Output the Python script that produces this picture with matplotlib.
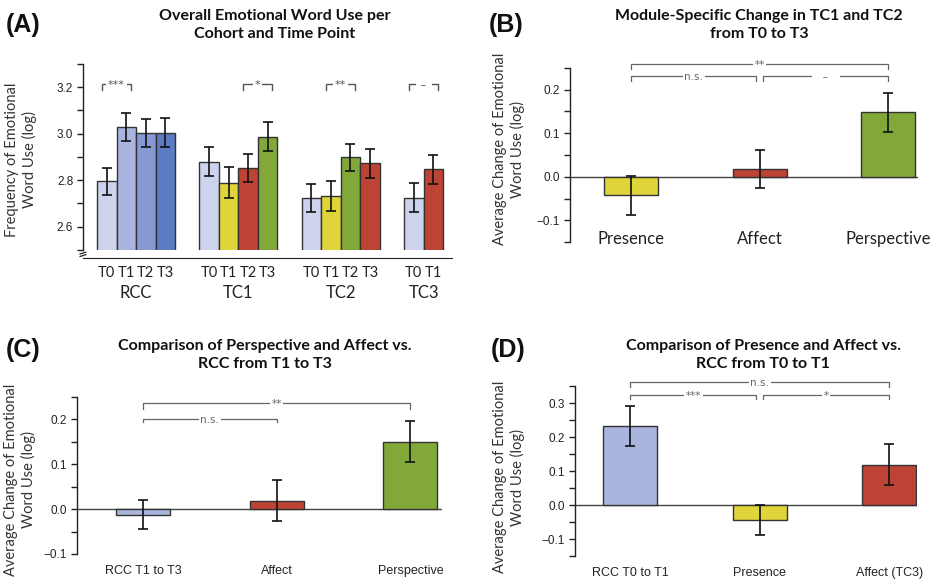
import matplotlib
matplotlib.use('Agg')
import numpy as np
import matplotlib.pyplot as plt
from matplotlib.ticker import MultipleLocator, FixedLocator

plt.rcParams['font.family'] = ['Lato', 'DejaVu Sans']

# ---- data ----
cohorts = ['RCC', 'TC1', 'TC2', 'TC3']
timepoints = [['T0', 'T1', 'T2', 'T3'], ['T0', 'T1', 'T2', 'T3'],
              ['T0', 'T1', 'T2', 'T3'], ['T0', 'T1']]
freq = [[2.795, 3.03, 3.005, 3.005],
        [2.88, 2.79, 2.853, 2.988],
        [2.725, 2.732, 2.898, 2.873],
        [2.725, 2.847]]
freq_err = [[0.058, 0.06, 0.06, 0.062],
            [0.062, 0.065, 0.06, 0.062],
            [0.06, 0.063, 0.06, 0.063],
            [0.063, 0.062]]
# (cohort index, bar i, bar j, label)
a_sig = [(0, 0, 1, '***'), (1, 2, 3, '*'), (2, 1, 2, '**'), (3, 0, 1, ' \u2013 ')]

b_labels = ['Presence', 'Affect', 'Perspective']
b_vals = [-0.043, 0.018, 0.148]
b_err = [0.044, 0.044, 0.045]

c_labels = ['RCC T1 to T3', 'Affect', 'Perspective']
c_vals = [-0.012, 0.019, 0.15]
c_err = [0.033, 0.045, 0.046]

d_labels = ['RCC T0 to T1', 'Presence', 'Affect (TC3)']
d_vals = [0.233, -0.045, 0.119]
d_err = [0.058, 0.044, 0.059]

# colours
blue0, blue1, blue2, blue3 = '#cdd3ec', '#a9b5df', '#8799d4', '#5b7bc3'
yellow, red, green = '#dfd43a', '#bd4434', '#82a83a'
a_colors = [[blue0, blue1, blue2, blue3],
            [blue0, yellow, red, green],
            [blue0, yellow, green, red],
            [blue0, red]]

W, H = 939, 583
fig = plt.figure(figsize=(W / 100, H / 100), dpi=100)
dark = '#222222'
brk = '#666666'


def add_ax(l, t, r, b):
    return fig.add_axes([l / W, 1 - b / H, (r - l) / W, (b - t) / H])


def style_y(ax):
    for s in ['top', 'right', 'bottom']:
        ax.spines[s].set_visible(False)
    ax.spines['left'].set_color(dark)
    ax.spines['left'].set_linewidth(1)
    ax.tick_params(axis='y', which='both', direction='out', length=4,
                   width=1, color=dark, pad=3, labelsize=8.5, labelcolor=dark)
    for t in ax.get_yticklabels():
        t.set_family('Liberation Sans')


def bracket(ax, x1, x2, y, drop, text, fs=7.5, color=brk, lw=0.9):
    ax.plot([x1, x1, x2, x2], [y - drop, y, y, y - drop], color=color,
            lw=lw, clip_on=False, zorder=5)
    ax.text((x1 + x2) / 2, y, text, ha='center', va='center_baseline',
            fontsize=fs, family='DejaVu Sans', color=color, zorder=6,
            clip_on=False,
            bbox=dict(facecolor='white', edgecolor='none', pad=1.2))


def fig_text(x, y, s, **kw):
    fig.text(x / W, 1 - y / H, s, **kw)


# ---- panel A ----
axA = add_ax(83, 64, 452, 250)
gap = 1.25
pos = 0
centers = []
for k in range(len(cohorts)):
    n = len(freq[k])
    xs = pos + np.arange(n) + 0.5
    centers.append(xs)
    axA.bar(xs, freq[k], width=1.0, bottom=0, color=a_colors[k],
            edgecolor='#333333', lw=1, zorder=2)
    axA.errorbar(xs, freq[k], yerr=freq_err[k], fmt='none', ecolor='#111111',
                 elinewidth=1.2, capsize=3.5, capthick=1.2, zorder=3)
    pos += n + gap
axA.set_ylim(2.5, 3.3)
axA.set_xlim(-0.72, pos - gap + 0.46)
axA.yaxis.set_major_locator(FixedLocator([2.6, 2.8, 3.0, 3.2]))
axA.yaxis.set_minor_locator(MultipleLocator(0.1))
axA.set_yticklabels(['2.6', '2.8', '3.0', '3.2'])
style_y(axA)
axA.spines['bottom'].set_visible(True)
axA.spines['bottom'].set_position(('outward', 5.8))
axA.spines['bottom'].set_color(dark)
axA.set_xticks([])
xt = axA.get_xaxis_transform()
# axis break mark
for dy in (0.0, 2.5):
    axA.plot([-0.87, -0.58], [-(4.0 + dy) / 186, -(2.2 + dy) / 186],
             transform=xt, color=dark, lw=0.9, clip_on=False)
for k in range(len(cohorts)):
    for xi, lab in zip(centers[k], timepoints[k]):
        axA.text(xi, -23 / 186, lab, transform=xt, ha='center', va='center',
                 fontsize=10.5, color=dark)
    axA.text(centers[k].mean(), -43 / 186, cohorts[k], transform=xt,
             ha='center', va='center', fontsize=12, color=dark)
for k, i, j, lab in a_sig:
    mid = (centers[k][i] + centers[k][j]) / 2
    bracket(axA, mid - 0.75, mid + 0.75, 3.212, 0.022, lab, fs=8,
            color='#555555', lw=1.0)


# ---- panels B, C, D ----
def change_panel(rect, labels, vals, errs, colors, ylo, yhi, ticks, xl, xr,
                 width, lab_y, lab_font, lab_size):
    ax = add_ax(*rect)
    x = np.arange(len(vals))
    ax.axhline(0, color='#444444', lw=1, zorder=1)
    ax.bar(x, vals, width, color=colors, edgecolor='#333333', lw=1, zorder=2)
    ax.errorbar(x, vals, yerr=errs, fmt='none', ecolor='#111111',
                elinewidth=1.2, capsize=3.5, capthick=1.2, zorder=3)
    ax.set_xlim(xl, xr)
    ax.set_ylim(ylo, yhi)
    ax.yaxis.set_major_locator(FixedLocator(ticks))
    ax.yaxis.set_minor_locator(MultipleLocator(0.05))
    ax.set_yticklabels([('%.1f' % t).replace('-', '\u2212') for t in ticks])
    style_y(ax)
    ax.set_xticks([])
    hpx = rect[3] - rect[1]
    for xi, lab in zip(x, labels):
        ax.text(xi, (rect[3] - lab_y) / hpx, lab,
                transform=ax.get_xaxis_transform(), ha='center', va='center',
                fontsize=lab_size, family=lab_font, color=dark)
    return ax


axB = change_panel((570, 68, 918, 242), b_labels, b_vals, b_err,
                   [yellow, red, green], -0.15, 0.25, [-0.1, 0.0, 0.1, 0.2],
                   -0.473, 2.23, 0.42, 239, 'Lato', 12)
bracket(axB, 0, 2, 0.259, 0.011, '**')
bracket(axB, 0, 0.975, 0.232, 0.012, 'n.s.')
bracket(axB, 1.025, 2, 0.232, 0.012, '   \u2013   ')

axC = change_panel((77, 397, 442, 554), c_labels, c_vals, c_err,
                   [blue1, red, green], -0.1, 0.25, [-0.1, 0.0, 0.1, 0.2],
                   -0.494, 2.237, 0.405, 570.7, 'Liberation Sans', 9)
bracket(axC, 0, 2, 0.237, 0.013, '**')
bracket(axC, 0, 1, 0.2016, 0.008, 'n.s.')

axD = change_panel((575, 386, 917, 556), d_labels, d_vals, d_err,
                   [blue1, yellow, red], -0.15, 0.35,
                   [-0.1, 0.0, 0.1, 0.2, 0.3],
                   -0.425, 2.214, 0.417, 572.7, 'Liberation Sans', 9)
bracket(axD, 0, 2, 0.361, 0.015, 'n.s.')
bracket(axD, 0, 0.975, 0.3235, 0.012, '***')
bracket(axD, 1.025, 2, 0.3235, 0.012, '*')

# ---- titles, panel letters, y labels ----
tkw = dict(ha='center', va='center', fontsize=11.5, fontweight='bold',
           color='#111111', linespacing=1.3)
fig_text(275, 25, 'Overall Emotional Word Use per\nCohort and Time Point', **tkw)
fig_text(759, 25, 'Module-Specific Change in TC1 and TC2\nfrom T0 to T3', **tkw)
fig_text(265, 355, 'Comparison of Perspective and Affect vs.\nRCC from T1 to T3', **tkw)
fig_text(763, 355, 'Comparison of Presence and Affect vs.\nRCC from T0 to T1', **tkw)

lkw = dict(ha='left', va='center', fontsize=18, fontweight='bold',
           family='Liberation Sans', color='#111111')
fig_text(6, 25, '(A)', **lkw)
fig_text(489, 25, '(B)', **lkw)
fig_text(6, 350, '(C)', **lkw)
fig_text(491, 350, '(D)', **lkw)

ykw = dict(ha='center', va='center', rotation=90, fontsize=10.5,
           color='#333333', linespacing=1.2)
fig_text(21, 160, 'Frequency of Emotional\nWord Use (log)', **ykw)
fig_text(509, 149, 'Average Change of Emotional\nWord Use (log)', **ykw)
fig_text(20, 480, 'Average Change of Emotional\nWord Use (log)', **ykw)
fig_text(509, 477, 'Average Change of Emotional\nWord Use (log)', **ykw)

fig.savefig('out.png', dpi=100)
